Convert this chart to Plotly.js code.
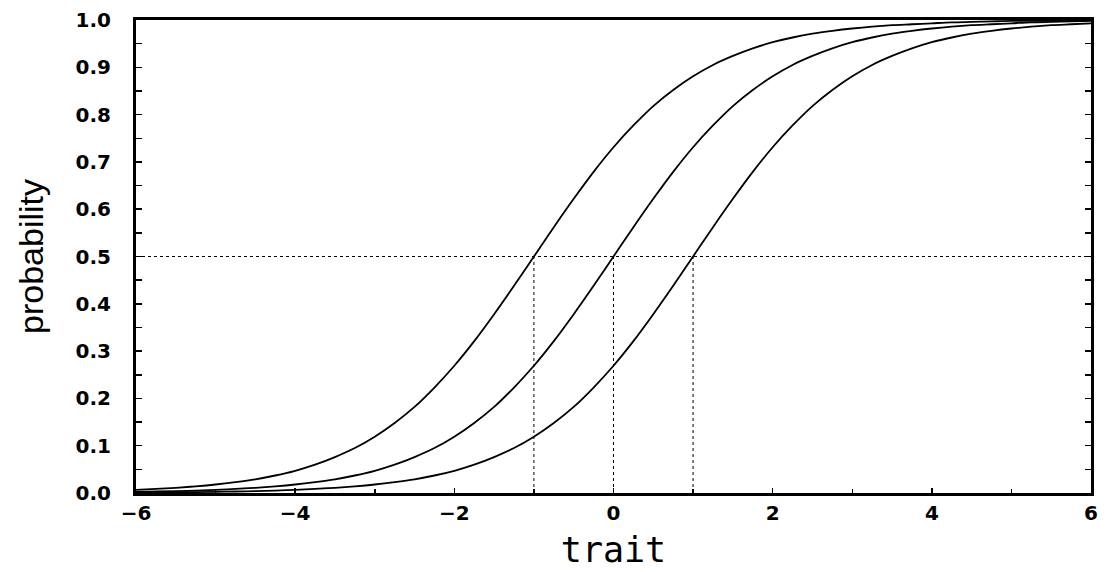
<!DOCTYPE html>
<html>
<head>
<meta charset="utf-8">
<script src="https://cdn.plot.ly/plotly-3.0.1.min.js"></script>
<style>html,body{margin:0;padding:0;background:#fff;}#chart{width:1107px;height:572px;}</style>
</head>
<body>
<div id="chart"></div>
<script>
// trait values (x)
const trait = [-6,-5.75,-5.5,-5.25,-5,-4.75,-4.5,-4.25,-4,-3.75,-3.5,-3.25,-3,-2.75,-2.5,-2.25,-2,-1.75,-1.5,-1.25,-1,-0.75,-0.5,-0.25,0,
               0.25,0.5,0.75,1,1.25,1.5,1.75,2,2.25,2.5,2.75,3,3.25,3.5,3.75,4,4.25,4.5,4.75,5,5.25,5.5,5.75,6];
// probability curves
const probLeft  = [0.0067,0.0086,0.011,0.0141,0.018,0.023,0.029,0.037,0.047,0.06,0.076,0.095,0.119,0.148,0.182,0.223,0.269,0.321,0.378,0.438,0.5,
                   0.562,0.622,0.679,0.731,0.777,0.818,0.852,0.881,0.905,0.924,0.94,0.953,0.963,0.971,0.977,0.982,0.986,0.989,0.991,0.993,
                   0.995,0.996,0.997,0.998,0.998,0.9985,0.9988,0.9991];
const probMid   = [0.0025,0.0032,0.0041,0.0052,0.0067,0.0086,0.011,0.0141,0.018,0.023,0.029,0.037,0.047,0.06,0.076,0.095,0.119,0.148,0.182,0.223,0.269,0.321,0.378,0.438,0.5,
                   0.562,0.622,0.679,0.731,0.777,0.818,0.852,0.881,0.905,0.924,0.94,0.953,0.963,0.971,0.977,0.982,0.986,0.989,0.991,0.993,0.995,0.996,0.997,0.998];
const probRight = [0.0009,0.0012,0.0015,0.0019,0.0025,0.0032,0.0041,0.0052,0.0067,0.0086,0.011,0.0141,0.018,0.023,0.029,0.037,0.047,0.06,0.076,0.095,0.119,0.148,0.182,0.223,0.269,
                   0.321,0.378,0.438,0.5,0.562,0.622,0.679,0.731,0.777,0.818,0.852,0.881,0.905,0.924,0.94,0.953,0.963,0.971,0.977,0.982,0.986,0.989,0.991,0.993];
// reference (dotted) lines
const refLevel = 0.5;
const refTraits = [-1, 0, 1];
const xRange = [-6, 6];

const curveStyle = {color: '#000', width: 1.8, shape: 'spline', smoothing: 1};
const dotStyle = {color: '#000', width: 1, dash: 'dot'};

const traces = [];
[probLeft, probMid, probRight].forEach(p => {
  traces.push({x: trait, y: p, mode: 'lines', line: curveStyle, hoverinfo: 'skip', showlegend: false});
});
traces.push({x: xRange, y: [refLevel, refLevel], mode: 'lines', line: dotStyle, showlegend: false, hoverinfo: 'skip'});
refTraits.forEach(t => {
  traces.push({x: [t, t], y: [0, refLevel], mode: 'lines', line: dotStyle, showlegend: false, hoverinfo: 'skip'});
});

const tickFont = {family: 'DejaVu Sans', size: 20, color: '#000', weight: 'bold'};

const layout = {
  width: 1107, height: 572,
  margin: {l: 136, r: 16, t: 20, b: 79},
  paper_bgcolor: '#fff', plot_bgcolor: '#fff',
  showlegend: false,
  xaxis: {
    range: xRange, dtick: 2, tick0: -6,
    ticks: 'inside', ticklen: 5, tickwidth: 1.5, tickcolor: '#000',
    minor: {dtick: 1, ticks: 'inside', ticklen: 4, tickcolor: '#000'},
    showline: true, linewidth: 3, linecolor: '#000', mirror: true,
    showgrid: false, zeroline: false,
    tickfont: tickFont, ticklabelstandoff: 0,
    title: {text: 'trait', font: {family: 'DejaVu Sans Mono', size: 35, color: '#000'}, standoff: 14}
  },
  yaxis: {
    range: [0, 1], dtick: 0.1, tick0: 0, tickformat: '.1f',
    ticks: 'inside', ticklen: 6, tickwidth: 1.5, tickcolor: '#000',
    minor: {dtick: 0.05, ticks: 'inside', ticklen: 6, tickcolor: '#000'},
    showline: true, linewidth: 3, linecolor: '#000', mirror: 'ticks',
    showgrid: false, zeroline: false,
    tickfont: tickFont, ticklabelstandoff: 18,
    title: {text: 'probability', font: {family: 'Liberation Sans', size: 34, color: '#000'}, standoff: 22}
  }
};

Plotly.newPlot('chart', traces, layout, {displayModeBar: false, staticPlot: true});
</script>
</body>
</html>
